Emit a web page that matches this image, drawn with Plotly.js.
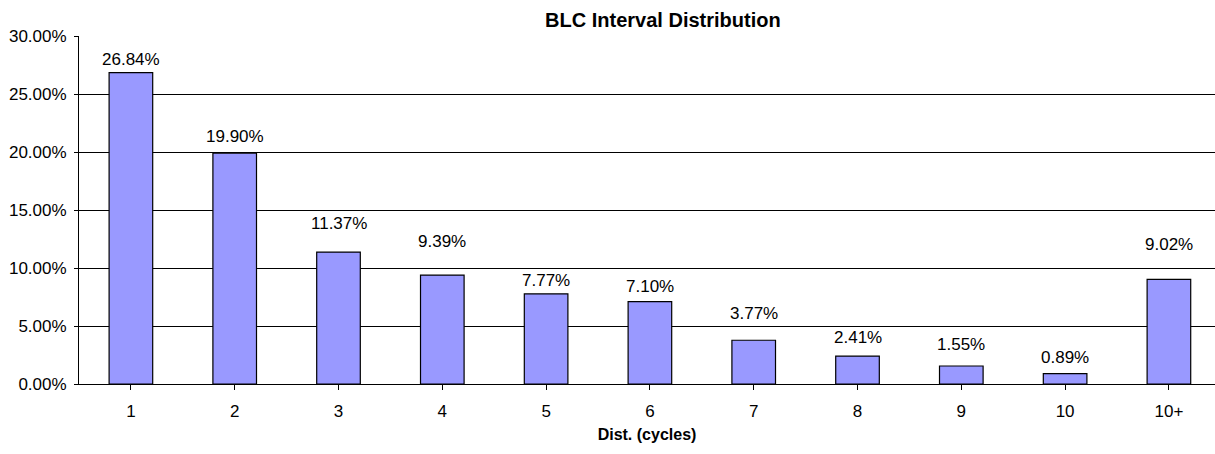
<!DOCTYPE html>
<html>
<head>
<meta charset="utf-8">
<script src="https://cdn.plot.ly/plotly-3.0.1.min.js"></script>
<style>
  html, body { margin: 0; padding: 0; background: #fff; }
  #chart { width: 1215px; height: 454px; }
</style>
</head>
<body>
<div id="chart"></div>
<script>
// Share of BLC intervals by distance in cycles
const categories = ['1', '2', '3', '4', '5', '6', '7', '8', '9', '10', '10+'];
const shares = [26.84, 19.90, 11.37, 9.39, 7.77, 7.10, 3.77, 2.41, 1.55, 0.89, 9.02];
const yTickValues = [0, 5, 10, 15, 20, 25, 30];

// Pixel lift of each value label above its bar
const labelLift = [2, 5, 17, 22, 2, 4, 15, 7, 10, 5, 23];

const fontFamily = 'Arial, "Liberation Sans", sans-serif';

const bars = {
  type: 'bar',
  x: categories.map((c, i) => i),
  y: shares,
  width: 0.42,
  marker: { color: '#9999FF', line: { color: '#000000', width: 1.2 } },
  hoverinfo: 'skip'
};

const labels = shares.map((v, i) => ({
  x: i,
  y: v,
  xref: 'x',
  yref: 'y',
  text: v.toFixed(2) + '%',
  showarrow: false,
  yanchor: 'bottom',
  yshift: labelLift[i],
  font: { family: fontFamily, size: 17, color: '#000000' }
}));

const layout = {
  width: 1215,
  height: 454,
  margin: { l: 79, r: 0, t: 36, b: 70 },
  paper_bgcolor: '#ffffff',
  plot_bgcolor: '#ffffff',
  showlegend: false,
  title: {
    text: '<b>BLC Interval Distribution</b>',
    font: { family: fontFamily, size: 20, color: '#000000' },
    x: 0.514,
    xref: 'paper',
    xanchor: 'center',
    y: 0.955,
    yref: 'container',
    yanchor: 'middle'
  },
  xaxis: {
    range: [-0.5, 10.444],
    tickmode: 'array',
    tickvals: categories.map((c, i) => i),
    ticktext: categories,
    showgrid: false,
    zeroline: false,
    showline: true,
    linecolor: '#000000',
    linewidth: 1,
    ticks: 'outside',
    tickson: 'boundaries',
    ticklen: 5,
    tickcolor: '#000000',
    tickfont: { family: fontFamily, size: 17, color: '#000000' },
    ticklabelstandoff: 7,
    title: {
      text: '<b>Dist. (cycles)</b>',
      font: { family: fontFamily, size: 16, color: '#000000' },
      standoff: 8
    },
    fixedrange: true
  },
  yaxis: {
    range: [0, 30],
    tickmode: 'array',
    tickvals: yTickValues,
    ticktext: yTickValues.map(v => v.toFixed(2) + '%'),
    showgrid: true,
    gridcolor: '#000000',
    gridwidth: 1,
    zeroline: false,
    showline: true,
    linecolor: '#000000',
    linewidth: 1,
    ticks: 'outside',
    ticklen: 4,
    tickcolor: '#000000',
    tickfont: { family: fontFamily, size: 17, color: '#000000' },
    ticklabelstandoff: 4,
    fixedrange: true
  },
  annotations: labels
};

Plotly.newPlot('chart', [bars], layout, { displayModeBar: false, staticPlot: true });
</script>
</body>
</html>
